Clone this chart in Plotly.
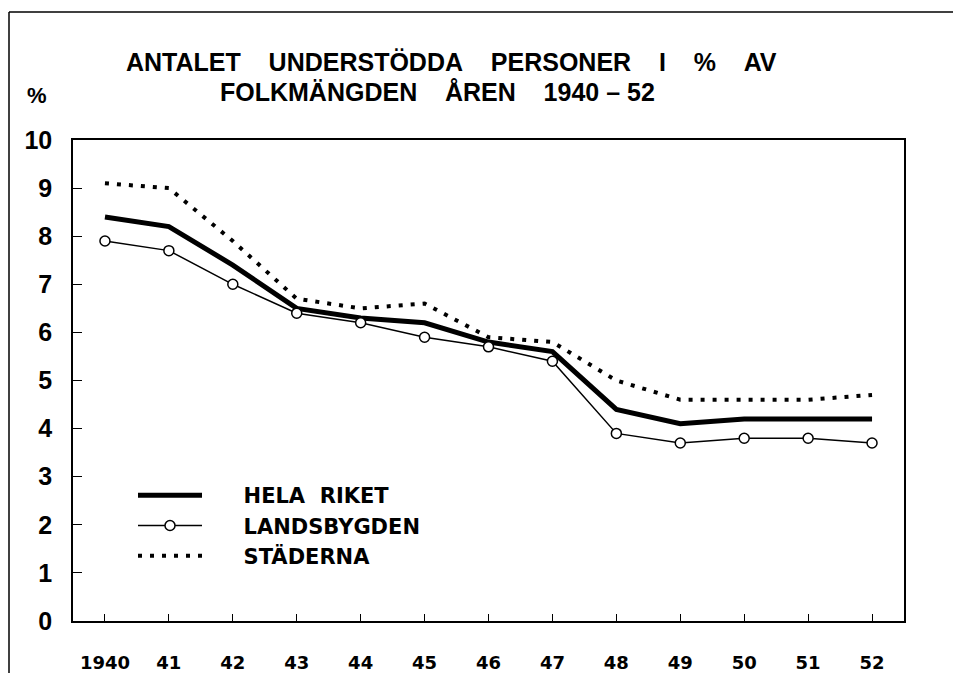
import plotly.graph_objects as go

years = [1940, 1941, 1942, 1943, 1944, 1945, 1946, 1947, 1948, 1949, 1950, 1951, 1952]
year_labels = ["1940", "41", "42", "43", "44", "45", "46", "47", "48", "49", "50", "51", "52"]
hela_riket = [8.4, 8.2, 7.4, 6.5, 6.3, 6.2, 5.8, 5.6, 4.4, 4.1, 4.2, 4.2, 4.2]
landsbygden = [7.9, 7.7, 7.0, 6.4, 6.2, 5.9, 5.7, 5.4, 3.9, 3.7, 3.8, 3.8, 3.7]
staderna = [9.1, 9.0, 7.9, 6.7, 6.5, 6.6, 5.9, 5.8, 5.0, 4.6, 4.6, 4.6, 4.7]
y_ticks = [0, 1, 2, 3, 4, 5, 6, 7, 8, 9, 10]

FONT = "Liberation Sans, Arial, sans-serif"
WIDE = "DejaVu Sans, Verdana, sans-serif"
NB = "\u00a0"
PAD = NB * 5

fig = go.Figure()
fig.add_trace(go.Scatter(x=years, y=hela_riket, name=PAD + "HELA" + NB * 2 + "RIKET", mode="lines",
                         line=dict(color="black", width=5)))
fig.add_trace(go.Scatter(x=years, y=landsbygden, name=PAD + "LANDSBYGDEN", mode="lines+markers",
                         line=dict(color="black", width=1.5),
                         marker=dict(symbol="circle", size=10, color="white",
                                     line=dict(color="black", width=1.5))))
fig.add_trace(go.Scatter(x=years, y=staderna, name=PAD + "STÄDERNA", mode="lines",
                         line=dict(color="black", width=4, dash="4px,8px")))

# page offset caused by default body margin
OFF = 8
W, H = 962 - 2 * OFF, 681 - 2 * OFF
L, R, T, B = 65, 50, 132, 52
pw, ph = W - L - R, H - T - B


def px(x):  # page pixel x -> paper
    return (x - OFF - L) / pw


def py(y):  # page pixel y -> paper
    return (OFF + H - B - y) / ph


fig.update_layout(
    width=W, height=H,
    margin=dict(l=L, r=R, t=T, b=B, autoexpand=False),
    paper_bgcolor="white", plot_bgcolor="white",
    showlegend=True,
    legend=dict(x=px(133), y=py(475), xanchor="left", yanchor="top",
                font=dict(family=WIDE, size=21, color="black", weight="bold"),
                bgcolor="rgba(0,0,0,0)", itemwidth=64, tracegroupgap=0),
    xaxis=dict(range=[1939.5, 1952.5], tickmode="array", tickvals=years, ticktext=year_labels,
               showline=True, linecolor="black", linewidth=1.5, mirror=True, automargin=False,
               ticks="inside", ticklen=7, tickcolor="black", tickwidth=1,
               showgrid=False, zeroline=False, ticklabelstandoff=25,
               tickfont=dict(family=WIDE, size=18, color="black", weight="bold")),
    yaxis=dict(range=[0, 10], tickmode="array", tickvals=y_ticks,
               showline=True, linecolor="black", linewidth=1.5, mirror=True, automargin=False,
               ticks="inside", ticklen=9, tickcolor="black", tickwidth=1,
               showgrid=False, zeroline=False, ticklabelstandoff=14,
               tickfont=dict(family=FONT, size=25, color="black", weight="bold")),
    annotations=[
        dict(text=(NB * 4).join(["ANTALET", "UNDERSTÖDDA", "PERSONER", "I", "%", "AV"]),
             x=px(451), y=py(62), xref="paper", yref="paper", showarrow=False,
             xanchor="center", yanchor="middle",
             font=dict(family=FONT, size=25, color="black", weight="bold")),
        dict(text="FOLKMÄNGDEN" + NB * 4 + "ÅREN" + NB * 4 + "1940" + NB + "–" + NB + "52",
             x=px(437), y=py(92), xref="paper", yref="paper", showarrow=False,
             xanchor="center", yanchor="middle",
             font=dict(family=FONT, size=25, color="black", weight="bold")),
        dict(text="%", x=px(37), y=py(95), xref="paper", yref="paper", showarrow=False,
             xanchor="center", yanchor="middle",
             font=dict(family=FONT, size=22, color="black", weight="bold")),
    ],
    shapes=[
        dict(type="line", xref="paper", yref="paper", x0=px(9), x1=px(9), y0=py(12), y1=py(673),
             line=dict(color="black", width=1.5)),
        dict(type="line", xref="paper", yref="paper", x0=px(9), x1=px(953), y0=py(12), y1=py(12),
             line=dict(color="black", width=1.5)),
    ],
)

fig.write_html("out.html", config=dict(displayModeBar=False))
